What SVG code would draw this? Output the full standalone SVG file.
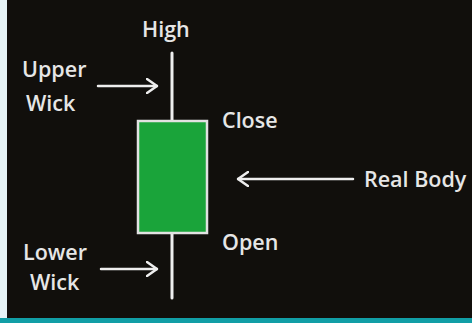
<svg xmlns="http://www.w3.org/2000/svg" width="472" height="323" viewBox="0 0 472 323">
<defs>
<style>
.t{font-family:"Open Sans","DejaVu Sans",sans-serif;font-size:21.5px;font-weight:600;fill:#e6e6e6;}
.w{stroke:#eeeeee;stroke-width:3;fill:none;stroke-linecap:round;}
.a{stroke:#eeeeee;stroke-width:2.5;fill:none;stroke-linecap:round;stroke-linejoin:round;}
</style>
<marker id="ah" viewBox="0 0 12 16" refX="11" refY="8" markerWidth="12" markerHeight="16" markerUnits="userSpaceOnUse" orient="auto">
<path d="M1,1 L11,8 L1,15" fill="none" stroke="#eeeeee" stroke-width="2.5" stroke-linecap="round" stroke-linejoin="round"/>
</marker>
</defs>
<rect x="0" y="0" width="472" height="323" fill="#e6f3f6"/>
<rect x="7" y="0" width="465" height="318" fill="#110f0c"/>
<rect x="0" y="318" width="472" height="5" fill="#119ea6"/>
<g id="candle">
<line class="w" x1="172" y1="53" x2="172" y2="121"/>
<line class="w" x1="172" y1="233" x2="172" y2="298"/>
<rect x="138" y="121" width="69" height="112" fill="#1aa43a" stroke="#e2e2e2" stroke-width="2.5"/>
</g>
<g id="labels">
<text class="t" x="142" y="37">High</text>
<text class="t" x="22" y="77">Upper</text>
<text class="t" x="26" y="111">Wick</text>
<text class="t" x="222" y="128">Close</text>
<text class="t" x="364" y="187">Real Body</text>
<text class="t" x="222" y="250">Open</text>
<text class="t" x="23" y="260">Lower</text>
<text class="t" x="30" y="290">Wick</text>
</g>
<g id="connectors">
<line class="a" x1="98" y1="86" x2="157" y2="86" marker-end="url(#ah)"/>
<line class="a" x1="353" y1="179" x2="238" y2="179" marker-end="url(#ah)"/>
<line class="a" x1="101" y1="269" x2="157" y2="269" marker-end="url(#ah)"/>
</g>
</svg>
